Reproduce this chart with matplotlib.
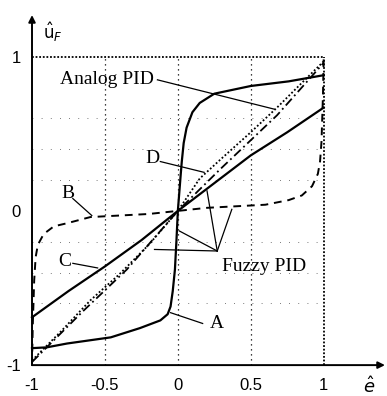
import numpy as np
import matplotlib.pyplot as plt

# curve A (solid, steep sigmoid)
a_x = [-1, -0.9, -0.76, -0.46, -0.26, -0.12, -0.07, -0.05, -0.035, -0.02, -0.01, 0,
       0.01, 0.02, 0.027, 0.04, 0.06, 0.1, 0.15, 0.25, 0.5, 0.76, 1]
a_y = [-0.89, -0.885, -0.86, -0.82, -0.76, -0.71, -0.67, -0.62, -0.52, -0.38, -0.2, 0,
       0.12, 0.24, 0.32, 0.44, 0.54, 0.64, 0.7, 0.76, 0.81, 0.84, 0.88]

# curve B (dashed, flat middle)
b_x = [-1, -0.995, -0.985, -0.975, -0.96, -0.92, -0.85, -0.76, -0.6, -0.4, -0.2, 0,
       0.2, 0.4, 0.6, 0.76, 0.85, 0.92, 0.96, 0.975, 0.985, 0.995, 1]
b_y = [-1, -0.75, -0.45, -0.3, -0.22, -0.15, -0.1, -0.08, -0.04, -0.03, -0.02, 0,
       0.02, 0.03, 0.04, 0.07, 0.1, 0.16, 0.24, 0.32, 0.45, 0.75, 1]

# curve C (solid, flatter line)
c_x = [-1, -0.75, -0.5, -0.25, 0, 0.25, 0.5, 0.75, 1]
c_y = [-0.69, -0.52, -0.36, -0.19, 0, 0.18, 0.36, 0.51, 0.67]

# curve D (dotted, near diagonal)
d_x = [-1, -0.8, -0.6, -0.4, -0.2, 0, 0.15, 0.3, 0.5, 0.68, 0.85, 1]
d_y = [-0.97, -0.78, -0.58, -0.41, -0.22, 0, 0.21, 0.34, 0.51, 0.67, 0.83, 0.97]

# analog PID (dashed, near diagonal)
p_x = [-1, -0.65, -0.35, 0, 0.29, 0.68, 1]
p_y = [-0.98, -0.65, -0.38, 0, 0.27, 0.62, 0.96]

x_ticks = [-1, -0.5, 0, 0.5, 1]
x_labels = ['-1', '-0.5', '0', '0.5', '1']
y_ticks = [-1, 0, 1]
y_labels = ['-1', '0', '1']

fig = plt.figure(figsize=(3.87, 3.96), dpi=100)
ax = fig.add_axes([0.0827, 0.078, 0.912, 0.884])
ax.set_xlim(-1, 1.42)
ax.set_ylim(-1, 1.27)
for s in ax.spines.values():
    s.set_visible(False)

k = 'black'
# grid
for gx in (-0.5, 0, 0.5):
    ax.plot([gx, gx], [-1, 1], color=k, lw=0.9, ls=(0, (1, 3)))
for gy in (-0.6, -0.4, -0.2, 0.2, 0.4, 0.6):
    ax.plot([-1, 1], [gy, gy], color='0.3', lw=0.6, ls=(0, (1, 10)))
ax.plot([-1, 1], [1, 1], color=k, lw=1.3, ls=(0, (1, 1)))
ax.plot([1, 1], [-1, 1], color=k, lw=1.3, ls=(0, (1, 1)))

# axes with arrows
ax.annotate('', xy=(1.42, -1), xytext=(-1, -1), annotation_clip=False,
            arrowprops=dict(arrowstyle='-|>', color=k, lw=1.4, mutation_scale=10,
                            shrinkA=0, shrinkB=0))
ax.annotate('', xy=(-1, 1.27), xytext=(-1, -1), annotation_clip=False,
            arrowprops=dict(arrowstyle='-|>', color=k, lw=1.4, mutation_scale=10,
                            shrinkA=0, shrinkB=0))

# curves
ax.plot(a_x, a_y, color=k, lw=1.6, clip_on=False)
ax.plot(b_x, b_y, color=k, lw=1.4, ls=(0, (4, 3)), clip_on=False)
ax.plot(c_x, c_y, color=k, lw=1.6, clip_on=False)
ax.plot(d_x, d_y, color=k, lw=1.3, ls=(0, (1, 1.2)), clip_on=False)
ax.plot(p_x, p_y, color=k, lw=1.3, ls=(0, (5, 2, 1, 2)), clip_on=False)

# labels and pointer lines
tf = dict(family='Liberation Serif', fontsize=14, color=k)
ax.text(-0.81, 0.85, 'Analog PID', ha='left', va='center', **tf)
ax.plot([-0.14, 0.66], [0.85, 0.66], color=k, lw=0.9)
ax.text(-0.22, 0.34, 'D', ha='left', va='center', **tf)
ax.plot([-0.12, 0.18], [0.32, 0.25], color=k, lw=0.9)
ax.text(-0.8, 0.11, 'B', ha='left', va='center', **tf)
ax.plot([-0.72, -0.59], [0.08, -0.03], color=k, lw=0.9)
ax.text(-0.82, -0.33, 'C', ha='left', va='center', **tf)
ax.plot([-0.72, -0.55], [-0.34, -0.37], color=k, lw=0.9)
ax.text(0.22, -0.73, 'A', ha='left', va='center', **tf)
ax.plot([0.17, -0.05], [-0.73, -0.66], color=k, lw=0.9)
ax.text(0.3, -0.36, 'Fuzzy PID', ha='left', va='center', **tf)
fx, fy = 0.27, -0.26
for ex, ey in [(0.2, 0.13), (0.37, 0.01), (0.01, -0.13), (-0.16, -0.25)]:
    ax.plot([fx, ex], [fy, ey], color=k, lw=0.9)

ax.text(-0.86, 1.16, r'$\hat{\mathrm{u}}_F$', fontsize=12, ha='center', va='center',
        family='Liberation Serif')
ax.text(1.31, -1.14, r'$\hat{e}$', fontsize=13, ha='center', va='center', clip_on=False)

ax.set_xticks(x_ticks)
ax.set_xticklabels(x_labels, family='Liberation Sans', fontsize=12)
ax.set_yticks(y_ticks)
ax.set_yticklabels(y_labels, family='Liberation Sans', fontsize=12)
ax.tick_params(length=0)
ax.tick_params(axis='x', pad=9)
ax.tick_params(axis='y', pad=8)

fig.savefig('out.png', dpi=100)
